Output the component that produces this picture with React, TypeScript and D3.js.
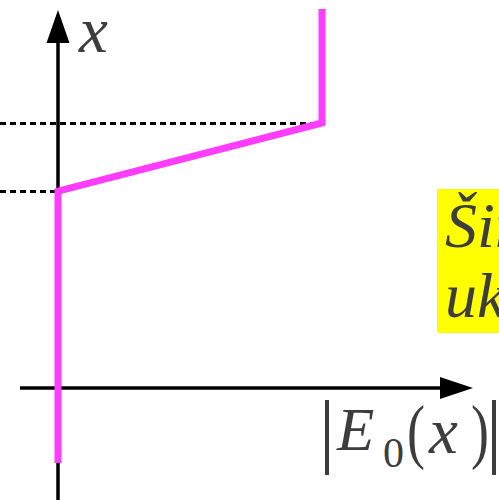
import React from "react";
import * as d3 from "d3";

// Field amplitude profile |E0(x)| across the layer: zero below x1, linear ramp, constant above x2
const profileE = [0, 0, 1, 1];
const profileX = [-0.283, 0.743, 1.0, 1.43];
// Layer boundaries marked with dashed guides
const levels = [0.743, 1.0];
const noteLines = ["Širina", "ukupno"];

const W = 499;
const H = 500;

export default function App() {
  const xs = d3.scaleLinear().domain([0, 1]).range([58, 322]);
  const ys = d3.scaleLinear().domain([0, 1]).range([388, 123]);

  const pts: [number, number][] = profileE.map((e, i) => [xs(e), ys(profileX[i])]);
  const line = d3.line()(pts) || "";

  const textColor = "#3d3d3d";
  const font = "Liberation Serif";

  const paren = (ch: string, x: number, y: number) => (
    <text
      x={0}
      y={0}
      fontSize={72}
      transform={`translate(${x},${y}) scale(0.75,1)`}
    >
      {ch}
    </text>
  );

  return (
    <svg
      width={W}
      height={H}
      style={{ position: "absolute", left: 0, top: 0 }}
      viewBox={`0 0 ${W} ${H}`}
    >
      <rect x={0} y={0} width={W} height={H} fill="#ffffff" />

      {/* dashed guides for layer boundaries */}
      {levels.map((lv, i) => {
        const e = i === 0 ? 0 : 1;
        const y = Math.round(ys(lv)) + 0.5;
        return (
          <line
            key={i}
            x1={0}
            x2={xs(e)}
            y1={y}
            y2={y}
            stroke="#000"
            strokeWidth={3}
            strokeDasharray="6 4"
          />
        );
      })}

      {/* vertical axis */}
      <line x1={xs(0)} x2={xs(0)} y1={H} y2={40} stroke="#000" strokeWidth={3.5} />
      <path d={`M${xs(0)},10 L${xs(0) - 11.5},43 L${xs(0) + 11.5},43 Z`} fill="#000" />

      {/* horizontal axis */}
      <line x1={20} x2={445} y1={ys(0)} y2={ys(0)} stroke="#000" strokeWidth={3.5} />
      <path d={`M473,${ys(0)} L440,${ys(0) - 11} L440,${ys(0) + 11} Z`} fill="#000" />

      {/* profile */}
      <path
        d={line}
        fill="none"
        stroke="#ff3dff"
        strokeWidth={7}
        strokeLinejoin="miter"
        strokeLinecap="butt"
      />

      {/* axis labels */}
      <text x={79} y={52} fontFamily={font} fontStyle="italic" fontSize={65} fill={textColor}>
        x
      </text>

      <g fill={textColor} fontFamily={font}>
        <rect x={325} y={400} width={4} height={75} />
        <text x={337} y={450} fontStyle="italic" fontSize={61}>E</text>
        <text x={383} y={467} fontSize={42}>0</text>
        {paren("(", 407, 455)}
        <text x={429} y={453} fontStyle="italic" fontSize={65}>x</text>
        {paren(")", 471, 455)}
        <rect x={492} y={400} width={4} height={75} />
      </g>

      {/* highlighted note, running off the right edge */}
      <rect x={437} y={189} width={80} height={144} fill="#ffff00" />
      <text x={445} y={247} fontFamily={font} fontStyle="italic" fontSize={64} fill={textColor}>
        {noteLines[0]}
      </text>
      <text x={445} y={317} fontFamily={font} fontStyle="italic" fontSize={64} fill={textColor}>
        {noteLines[1]}
      </text>
    </svg>
  );
}
